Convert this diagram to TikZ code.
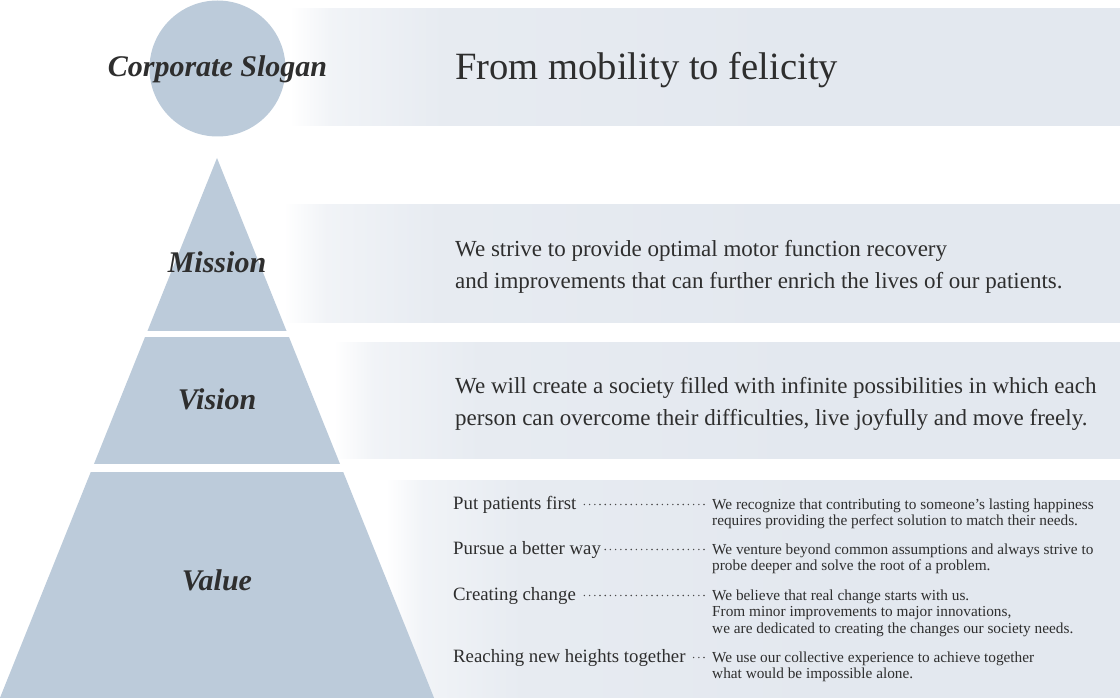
\documentclass[tikz,border=0pt]{standalone}
\usepackage{fontspec}
\setmainfont{Liberation Serif}
\usetikzlibrary{calc}
\definecolor{bandc}{HTML}{E3E8EF}
\definecolor{pyrc}{HTML}{BCCBDA}
\definecolor{txtc}{HTML}{2E2E2E}
\definecolor{dotc}{HTML}{4A4A4A}
\pgfdeclarehorizontalshading{bandfade}{100bp}{color(0bp)=(white); color(25bp)=(white); color(27.5bp)=(bandc!50!white); color(34bp)=(bandc!85!white); color(55bp)=(bandc); color(100bp)=(bandc)}
\tikzset{
  tierlabel/.style={font=\fontsize{30}{34}\selectfont\bfseries\itshape, text=txtc, inner sep=0pt, anchor=base},
  slogantext/.style={font=\fontsize{38.6}{44}\selectfont, text=txtc, inner sep=0pt, anchor=base west},
  maintext/.style={font=\fontsize{23}{30}\selectfont, text=txtc, inner sep=0pt, anchor=base west},
  valhead/.style={font=\fontsize{18.8}{22}\selectfont, text=txtc, inner sep=0pt, anchor=base west},
  valtext/.style={font=\fontsize{15.3}{17}\selectfont, text=txtc, inner sep=0pt, anchor=base west},
  leader/.style={draw=dotc, line width=1.6pt, line cap=round, dash pattern=on 0pt off 5.2pt},
  band/.style={shading=bandfade},
}
\begin{document}
\begin{tikzpicture}[x=1pt,y=-1pt]
\useasboundingbox (0,0) rectangle (1120,698);
% bands
\shade[band] (290,9) rectangle (1120,126);
\shade[band] (284,205) rectangle (1120,322);
\shade[band] (334,342) rectangle (1120,458);
\shade[band] (386,480) rectangle (1120,698);
% slogan circle
\fill[pyrc] (217.5,68.5) circle[radius=68];
% pyramid
\begin{scope}
  \clip (217,158) -- (434.5,699) -- (-0.5,699) -- cycle;
  \fill[pyrc] (-1,150) rectangle (440,331);
  \fill[pyrc] (-1,337) rectangle (440,464.3);
  \fill[pyrc] (-1,471.7) rectangle (440,700);
\end{scope}
% tier labels
\node[tierlabel] (lslogan) at (217.5,77) {Corporate Slogan};
\node[tierlabel] (lmission) at (217,272) {Mission};
\node[tierlabel] (lvision) at (217,409) {Vision};
\node[tierlabel] (lvalue) at (217,590) {Value};
% slogan
\node[slogantext] (slogan) at (455,80) {From mobility to felicity};
% mission
\node[maintext] (m1) at (455,256) {We strive to provide optimal motor function recovery};
\node[maintext] (m2) at (455,288) {and improvements that can further enrich the lives of our patients.};
% vision
\node[maintext] (vi1) at (455,393) {We will create a society filled with infinite possibilities in which each};
\node[maintext] (vi2) at (455,425) {person can overcome their difficulties, live joyfully and move freely.};
% values
\node[valhead] (v1) at (453,509) {Put patients first};
\node[valhead] (v2) at (453,554) {Pursue a better way};
\node[valhead] (v3) at (453,600) {Creating change};
\node[valhead] (v4) at (453,662) {Reaching new heights together};
\coordinate (e1) at (704,504.5);
\coordinate (e2) at (704,549.5);
\coordinate (e3) at (704,595.5);
\coordinate (e4) at (704,657.5);
\draw[leader] (e1) -- ($(v1.base east)+(4,-4.5)$);
\draw[leader] (e2) -- ($(v2.base east)+(4,-4.5)$);
\draw[leader] (e3) -- ($(v3.base east)+(4,-4.5)$);
\draw[leader] (e4) -- ($(v4.base east)+(4,-4.5)$);
\node[valtext] (t1a) at (712,509) {We recognize that contributing to someone’s lasting happiness};
\node[valtext] (t1b) at (712,525.5) {requires providing the perfect solution to match their needs.};
\node[valtext] (t2a) at (712,554) {We venture beyond common assumptions and always strive to};
\node[valtext] (t2b) at (712,570.5) {probe deeper and solve the root of a problem.};
\node[valtext] (t3a) at (712,600) {We believe that real change starts with us.};
\node[valtext] (t3b) at (712,616.5) {From minor improvements to major innovations,};
\node[valtext] (t3c) at (712,633) {we are dedicated to creating the changes our society needs.};
\node[valtext] (t4a) at (712,662) {We use our collective experience to achieve together};
\node[valtext] (t4b) at (712,678.5) {what would be impossible alone.};
\end{tikzpicture}
\end{document}
